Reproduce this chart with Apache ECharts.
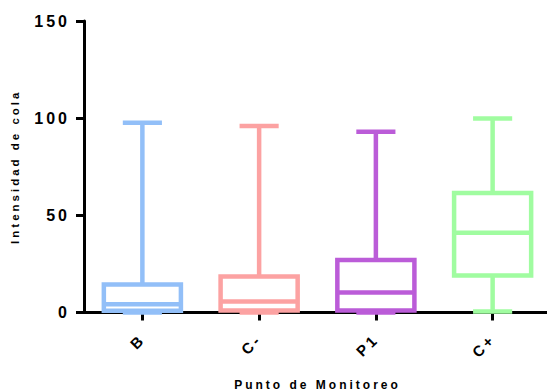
<!DOCTYPE html>
<html>
<head>
<meta charset="utf-8">
<script src="https://cdn.jsdelivr.net/npm/echarts@6/dist/echarts.min.js"></script>
<style>
  html, body { margin: 0; padding: 0; background: #fff; }
  #chart { width: 547px; height: 392px; }
  #chart svg text { letter-spacing: 3px; }
</style>
</head>
<body>
<div id="chart"></div>
<script>
var categories = ['B', 'C-', 'P1', 'C+'];
var mins    = [0,    0,    0,    0.5];
var q1s     = [0.9,  1,    1,    19];
var medians = [4.2,  5.6,  10.3, 41];
var q3s     = [14.4, 18.5, 27,   61.5];
var maxs    = [97.7, 96,   93,   99.8];
var yTicks  = [0, 50, 100, 150];
var colors  = ['#92BFF8', '#FCA2A2', '#BB5CD8', '#A0FCA0'];

var rows = categories.map(function (c, i) {
  return [i, mins[i], q1s[i], medians[i], q3s[i], maxs[i]];
});

var chart = echarts.init(document.getElementById('chart'), null, { renderer: 'svg' });
var font = '"Liberation Sans", Arial, sans-serif';

chart.setOption({
  animation: false,
  backgroundColor: '#fff',
  grid: { left: 84, right: -4, top: 21, bottom: 79.5, containLabel: false, outerBoundsMode: 'none' },
  xAxis: {
    type: 'category',
    data: categories,
    boundaryGap: true,
    name: 'Punto de Monitoreo',
    nameLocation: 'middle',
    nameGap: 66,
    nameTextStyle: { fontFamily: font, fontWeight: 'bold', fontSize: 12, color: '#000' },
    axisLine: { show: true, lineStyle: { color: '#000', width: 3 } },
    axisTick: { show: true, alignWithLabel: true, length: 8, lineStyle: { color: '#000', width: 3 } },
    axisLabel: { rotate: 45, margin: 24, fontFamily: font, fontWeight: 'bold', fontSize: 15, color: '#000' },
    splitLine: { show: false }
  },
  yAxis: {
    type: 'value',
    min: yTicks[0],
    max: yTicks[yTicks.length - 1],
    interval: yTicks[1] - yTicks[0],
    name: 'Intensidad de cola',
    nameLocation: 'middle',
    nameGap: 63,
    nameTextStyle: { fontFamily: font, fontWeight: 'bold', fontSize: 11.5, color: '#000' },
    axisLine: { show: true, lineStyle: { color: '#000', width: 3 } },
    axisTick: { show: true, length: 8, lineStyle: { color: '#000', width: 3 } },
    axisLabel: { margin: 14, fontFamily: font, fontWeight: 'bold', fontSize: 16, color: '#000' },
    splitLine: { show: false }
  },
  series: [{
    type: 'custom',
    data: rows,
    encode: { x: 0, y: [1, 2, 3, 4, 5] },
    renderItem: function (params, api) {
      var i = api.value(0);
      var bw = api.size([1, 0])[0];
      var boxW = bw * 0.66, capW = bw * 0.335;
      var x = api.coord([i, 0])[0];
      var pMin = api.coord([i, api.value(1)])[1];
      var pQ1 = api.coord([i, api.value(2)])[1];
      var pMed = api.coord([i, api.value(3)])[1];
      var pQ3 = api.coord([i, api.value(4)])[1];
      var pMax = api.coord([i, api.value(5)])[1];
      var st = { stroke: colors[i], fill: 'none', lineWidth: 4.5 };
      return {
        type: 'group',
        children: [
          { type: 'line', shape: { x1: x, y1: pMax, x2: x, y2: pQ3 }, style: st },
          { type: 'line', shape: { x1: x, y1: pQ1, x2: x, y2: pMin }, style: st },
          { type: 'line', shape: { x1: x - capW / 2, y1: pMax, x2: x + capW / 2, y2: pMax }, style: st },
          { type: 'line', shape: { x1: x - capW / 2, y1: pMin, x2: x + capW / 2, y2: pMin }, style: st },
          { type: 'rect', shape: { x: x - boxW / 2, y: pQ3, width: boxW, height: pQ1 - pQ3 }, style: st },
          { type: 'line', shape: { x1: x - boxW / 2, y1: pMed, x2: x + boxW / 2, y2: pMed }, style: st }
        ]
      };
    }
  }]
});
</script>
</body>
</html>
